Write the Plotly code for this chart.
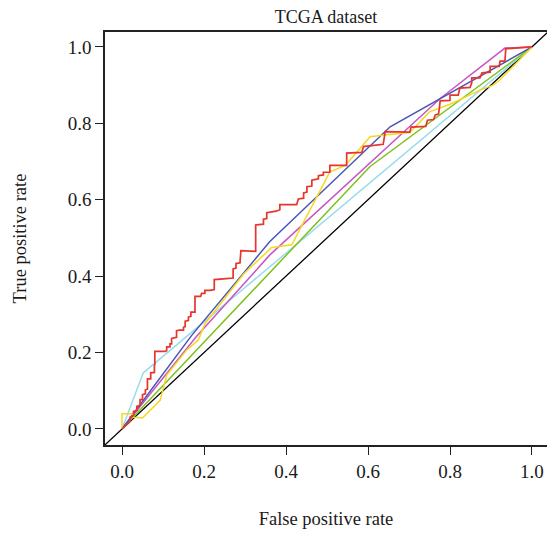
import plotly.graph_objects as go

# ROC curve data
red_x = [0, 0.02, 0.02, 0.028, 0.028, 0.036, 0.036, 0.044, 0.044, 0.05, 0.05, 0.057, 0.057,
         0.062, 0.062, 0.07, 0.07, 0.079, 0.079, 0.08, 0.08, 0.105, 0.109, 0.109, 0.117, 0.117,
         0.121, 0.121, 0.133, 0.133, 0.141, 0.15, 0.15, 0.154, 0.154, 0.162, 0.162, 0.168, 0.168,
         0.178, 0.178, 0.192, 0.194, 0.202, 0.202, 0.215, 0.225, 0.225, 0.247, 0.271, 0.271,
         0.278, 0.278, 0.288, 0.288, 0.29, 0.326, 0.326, 0.345, 0.345, 0.353, 0.353, 0.376,
         0.385, 0.385, 0.426, 0.43, 0.443, 0.443, 0.451, 0.451, 0.463, 0.463, 0.479, 0.479,
         0.491, 0.491, 0.507, 0.507, 0.54, 0.548, 0.548, 0.585, 0.589, 0.637, 0.642, 0.702,
         0.705, 0.741, 0.745, 0.76, 0.764, 0.772, 0.774, 0.776, 0.8, 0.8, 0.82, 0.824, 0.849,
         0.853, 0.853, 0.873, 0.878, 0.898, 0.898, 0.92, 0.922, 0.934, 0.936, 0.971, 1.0]
red_y = [0, 0.02, 0.031, 0.035, 0.046, 0.048, 0.059, 0.062, 0.077, 0.077, 0.09, 0.092, 0.102,
         0.104, 0.131, 0.131, 0.147, 0.148, 0.166, 0.168, 0.203, 0.203, 0.205, 0.215, 0.215, 0.223,
         0.223, 0.237, 0.24, 0.257, 0.259, 0.259, 0.266, 0.268, 0.282, 0.284, 0.293, 0.295, 0.306,
         0.306, 0.347, 0.347, 0.355, 0.355, 0.363, 0.363, 0.365, 0.391, 0.393, 0.395, 0.419,
         0.421, 0.433, 0.435, 0.439, 0.467, 0.465, 0.534, 0.536, 0.549, 0.551, 0.566, 0.57,
         0.574, 0.587, 0.587, 0.602, 0.604, 0.618, 0.62, 0.634, 0.636, 0.651, 0.655, 0.663,
         0.665, 0.672, 0.672, 0.69, 0.69, 0.69, 0.722, 0.724, 0.739, 0.745, 0.778, 0.777,
         0.79, 0.792, 0.808, 0.81, 0.822, 0.824, 0.839, 0.859, 0.86, 0.874, 0.874, 0.892, 0.894,
         0.906, 0.919, 0.919, 0.932, 0.934, 0.949, 0.949, 0.963, 0.963, 0.995, 0.997, 1.0]

blue_x = [0, 0.17, 0.36, 0.654, 1.0]
blue_y = [0, 0.245, 0.49, 0.791, 1.0]

magenta_x = [0, 0.18, 0.36, 0.776, 0.934, 1.0]
magenta_y = [0, 0.24, 0.455, 0.865, 0.997, 1.0]

green_x = [0, 0.605, 1.0]
green_y = [0, 0.687, 1.0]

lightblue_x = [0, 0.052, 1.0]
lightblue_y = [0, 0.147, 1.0]

yellow_x = [0, 0, 0.024, 0.028, 0.05, 0.093, 0.109, 0.158, 0.186, 0.202, 0.296, 0.349, 0.365,
            0.414, 0.507, 0.545, 0.605, 0.646, 0.702, 0.75, 0.8, 0.873, 0.905, 0.922, 0.978, 1.0]
yellow_y = [0, 0.04, 0.04, 0.031, 0.029, 0.075, 0.141, 0.207, 0.233, 0.275, 0.405, 0.46, 0.475,
            0.482, 0.673, 0.69, 0.765, 0.77, 0.776, 0.83, 0.85, 0.887, 0.9, 0.914, 0.975, 1.0]

diag_x = [-0.1, 1.1]
diag_y = [-0.1, 1.1]

x_ticks = [0.0, 0.2, 0.4, 0.6, 0.8, 1.0]
y_ticks = [0.0, 0.2, 0.4, 0.6, 0.8, 1.0]
tick_text = ["0.0", "0.2", "0.4", "0.6", "0.8", "1.0"]

FONT = "Liberation Serif"
TXT = "#1a1a1a"

fig = go.Figure()
series = [
    (diag_x, diag_y, "#000000", 1.3),
    (lightblue_x, lightblue_y, "#9ADCEB", 1.5),
    (green_x, green_y, "#7CC21B", 1.5),
    (magenta_x, magenta_y, "#C955C4", 1.5),
    (blue_x, blue_y, "#4A56B4", 1.5),
    (yellow_x, yellow_y, "#F7D820", 1.5),
    (red_x, red_y, "#E6352B", 1.7),
]
for xs, ys, c, w in series:
    fig.add_trace(go.Scatter(x=xs, y=ys, mode="lines",
                             line=dict(color=c, width=w), showlegend=False,
                             hoverinfo="skip"))

fig.update_layout(
    width=547, height=535,
    margin=dict(l=105, r=0, t=32, b=90),
    paper_bgcolor="white", plot_bgcolor="white",
    font=dict(family=FONT, size=18, color=TXT),
    title=dict(text="TCGA dataset", x=0.5, xref="paper", xanchor="center",
               y=1, yref="paper", yanchor="bottom", pad=dict(b=9),
               font=dict(family=FONT, size=18, color=TXT)),
)
fig.update_xaxes(
    range=[-0.0415, 1.0366], tickvals=x_ticks, ticktext=tick_text,
    showgrid=False, zeroline=False, showline=True, linecolor="#222", linewidth=1.5,
    mirror=True, ticks="outside", ticklen=8, tickcolor="#222", tickwidth=1,
    tickfont=dict(family=FONT, size=19, color=TXT),
    title=dict(text="False positive rate", standoff=32, font=dict(family=FONT, size=18.5, color=TXT)),
)
fig.update_yaxes(
    range=[-0.0419, 1.039], tickvals=y_ticks, ticktext=tick_text,
    showgrid=False, zeroline=False, showline=True, linecolor="#222", linewidth=1.5,
    mirror=False, ticks="outside", ticklen=8, tickcolor="#222", tickwidth=1,
    tickfont=dict(family=FONT, size=19, color=TXT),
    title=dict(text="True positive rate", standoff=36, font=dict(family=FONT, size=18.5, color=TXT)),
)

fig.write_html("out.html")
